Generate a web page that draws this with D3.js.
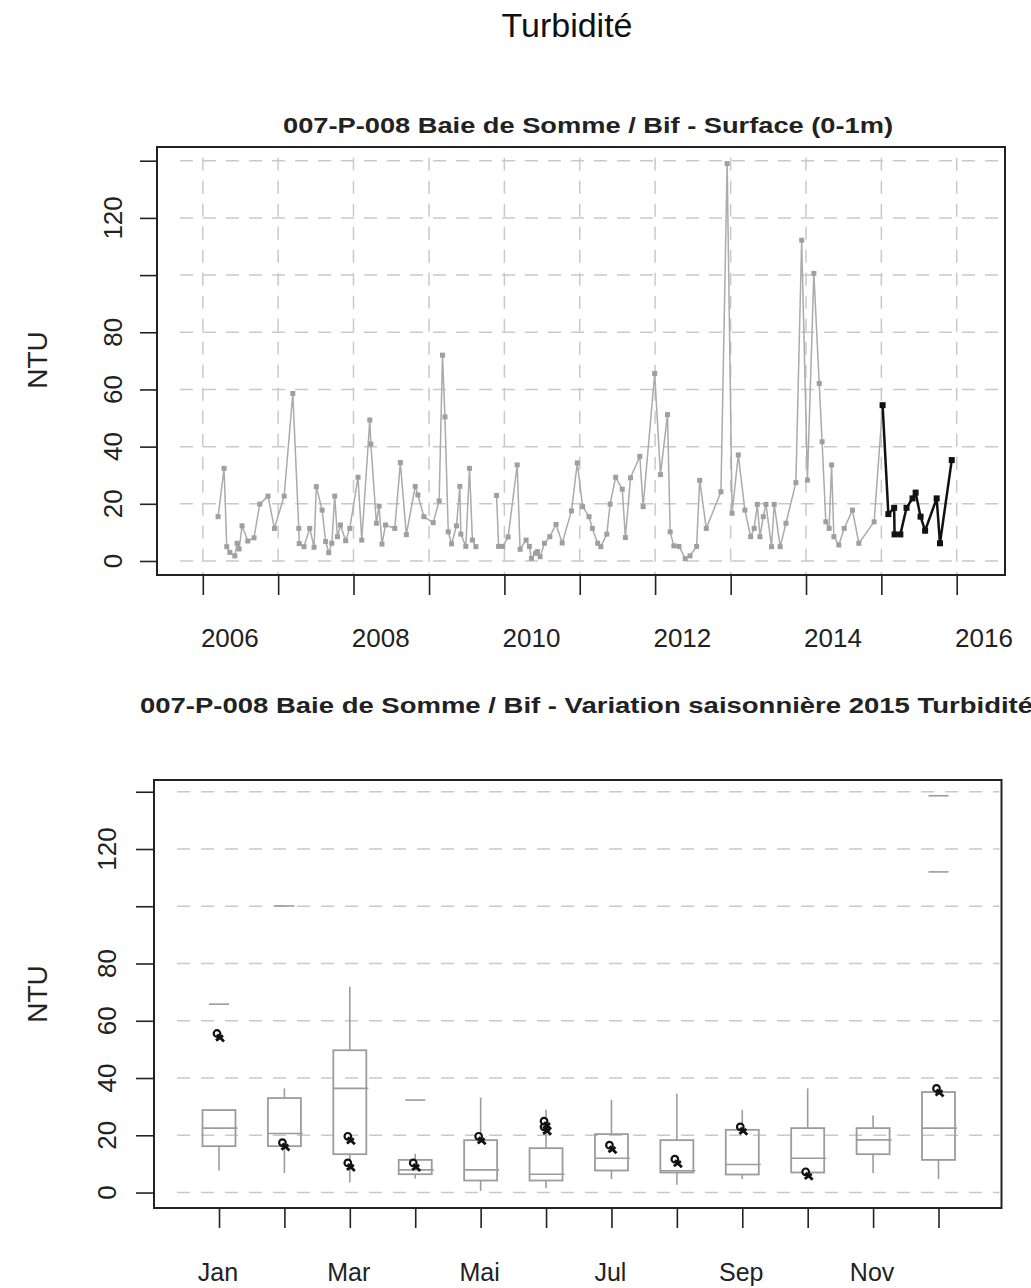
<!DOCTYPE html>
<html><head><meta charset="utf-8">
<script src="https://cdn.jsdelivr.net/npm/d3@7"></script>
<style>body{margin:0;background:#fff} text{font-family:"Liberation Sans",Arial,sans-serif}</style>
</head><body>
<svg id="c" width="1031" height="1288"></svg>
<script>
// ---------- DATA ----------
const histDates = ["2006-03-16","2006-04-14","2006-04-27","2006-05-12","2006-06-05","2006-06-16","2006-06-26","2006-07-10","2006-08-07","2006-09-06","2006-10-04","2006-11-13","2006-12-14",
"2007-01-30","2007-03-13","2007-04-11","2007-04-13","2007-05-06","2007-06-03","2007-06-24","2007-07-05","2007-08-02","2007-08-19","2007-09-03","2007-09-18","2007-10-02","2007-10-15","2007-10-30","2007-11-24","2007-12-14",
"2008-01-23","2008-02-10","2008-03-20","2008-03-25","2008-04-21","2008-05-04","2008-05-18","2008-06-04","2008-07-19","2008-08-15","2008-09-13","2008-10-26","2008-11-08","2008-12-07",
"2009-01-21","2009-02-19","2009-03-07","2009-03-19","2009-04-04","2009-04-20","2009-05-14","2009-05-30","2009-06-04","2009-06-28","2009-07-16","2009-07-30","2009-08-16","2009-10-01","2009-11-24","2009-12-04","2009-12-24",
"2010-01-19","2010-03-04","2010-03-18","2010-04-16","2010-05-02","2010-05-12","2010-06-01","2010-06-10","2010-06-23","2010-07-14","2010-08-09","2010-09-08","2010-10-08","2010-11-22","2010-12-20",
"2011-01-15","2011-02-15","2011-03-03","2011-03-29","2011-04-13","2011-05-12","2011-05-28","2011-06-24","2011-07-26","2011-08-10","2011-09-04","2011-10-19","2011-11-04","2011-12-30",
"2012-01-27","2012-03-01","2012-03-14","2012-04-01","2012-04-26","2012-05-26","2012-06-18","2012-07-20","2012-08-04","2012-09-05","2012-11-15","2012-12-15",
"2013-01-08","2013-02-07","2013-03-11","2013-04-08","2013-04-25","2013-05-10","2013-05-23","2013-06-08","2013-06-21","2013-07-18","2013-07-31","2013-08-29","2013-09-26","2013-11-13","2013-12-11",
"2014-01-08","2014-02-08","2014-03-06","2014-03-20","2014-04-07","2014-04-23","2014-05-05","2014-05-16","2014-06-09","2014-07-05","2014-08-14","2014-09-14","2014-11-27"];
const histValues = [15.5,32.4,5,3,1.8,6.2,4.2,12.3,7,8.1,19.9,22.7,11.4,
22.7,58.6,11.4,6.1,5,11.4,4.8,26,17.8,6.8,2.9,6.2,22.7,8.5,12.6,7.1,11.4,
29.3,7.3,49.3,40.9,13.2,19.2,5.9,12.6,11.4,34.4,9.2,26.1,23.1,15.5,
13.4,21,72,50.4,10.2,6,12.3,26.1,9.4,5.1,32.4,7.3,5,null,22.9,5.1,5.1,
8.4,33.6,4.1,7.3,5.1,0.9,2.7,3.3,1.5,6.2,8.5,12.8,6.3,17.5,34.3,
19,15.5,11.4,6.2,5,9.4,19.9,29.3,25.1,8.2,29.1,36.6,19,65.6,
30.2,51.2,10.2,5.3,5.1,0.8,1.8,5.1,28.2,11.4,24.2,139,
16.7,37.1,17.8,8.5,11.4,19.8,8.5,15.5,19.8,5,19.8,5,13.2,27.4,112.2,
28.3,100.6,62.1,41.7,13.7,11.4,33.6,8.5,5.6,11.4,17.8,6.2,13.7];
const dates2015 = ["2015-01-07","2015-02-04","2015-03-04","2015-03-06","2015-04-03","2015-05-03","2015-06-01","2015-06-16","2015-07-10","2015-08-01","2015-09-26","2015-10-12","2015-12-08"];
const values2015 = [54.5,16.4,18.6,9.3,9.3,18.6,21.9,23.9,15.5,10.6,21.9,6.2,35.3];

const yTicks = [0,20,40,60,80,100,120,140];
const yLabels = [0,20,40,60,80,120];
const yearTicks = [2006,2007,2008,2009,2010,2011,2012,2013,2014,2015,2016];
const yearLabels = [2006,2008,2010,2012,2014,2016];

const months = [1,2,3,4,5,6,7,8,9,10,11,12];
const monthLabels = {1:"Jan",3:"Mar",5:"Mai",7:"Jul",9:"Sep",11:"Nov"};
const boxQ1  = [16.2,16.2,13.4,6.4,4.2,4.2,7.7,7.0,6.3,7.0,13.4,11.4];
const boxMed = [22.5,20.6,36.4,7.9,7.9,6.4,12.0,7.6,9.8,12.0,18.4,22.5];
const boxQ3  = [28.8,33.0,49.7,11.4,18.3,15.5,20.4,18.3,21.9,22.5,22.5,35.1];
const boxLo  = [7.7,6.8,3.5,4.9,0.6,1.5,4.7,2.7,4.7,5.5,6.8,4.7];
const boxHi  = [28.8,36.4,71.9,13.5,33.2,28.9,32.4,34.5,28.9,36.4,26.9,35.1];
const outMonths = [1,2,4,12,12];
const outValues = [65.8,100.1,32.3,138.6,112];

// ---------- DRAW ----------
const svg = d3.select("#c");
const parse = d3.timeParse("%Y-%m-%d");
const gridCol = "#c9c9c9", grayCol = "#ababab", boxCol = "#9c9c9c";

svg.append("text").attr("x",567).attr("y",37).attr("text-anchor","middle")
  .attr("font-size",34).attr("fill","#111").text("Turbidité");

// ===== Top chart =====
const T = {l:157,r:1005,t:147,b:575};
const x = d3.scaleTime().domain([parse("2006-01-01"),parse("2016-01-01")]).range([202.8,956.7]);
const y = d3.scaleLinear().domain([-4.9,144.8]).range([T.b,T.t]);

svg.append("text").attr("x",588).attr("y",133).attr("text-anchor","middle")
  .attr("font-size",22).attr("font-weight","bold").attr("fill","#222")
  .attr("textLength",610).attr("lengthAdjust","spacingAndGlyphs")
  .text("007-P-008 Baie de Somme / Bif - Surface (0-1m)");

const gT = svg.append("g");
gT.selectAll("line.hg").data(yTicks).join("line")
  .attr("x1",180).attr("x2",T.r-2).attr("y1",d=>y(d)).attr("y2",d=>y(d))
  .attr("stroke",gridCol).attr("stroke-width",1.5).attr("stroke-dasharray","13,10");
gT.selectAll("line.vg").data(yearTicks).join("line")
  .attr("x1",d=>x(new Date(d,0,1))).attr("x2",d=>x(new Date(d,0,1)))
  .attr("y1",y(140)-3).attr("y2",T.b-1)
  .attr("stroke",gridCol).attr("stroke-width",1.5).attr("stroke-dasharray","13,10");

const hist = histDates.map((d,i)=>({d:parse(d),v:histValues[i]}));
const cur = dates2015.map((d,i)=>({d:parse(d),v:values2015[i]}));
const line = d3.line().defined(p=>p.v!==null).x(p=>x(p.d)).y(p=>y(p.v));
gT.append("path").datum(hist.concat([cur[0]])).attr("d",line)
  .attr("fill","none").attr("stroke",grayCol).attr("stroke-width",1.5);
gT.selectAll("rect.hp").data(hist.filter(p=>p.v!==null)).join("rect")
  .attr("x",p=>x(p.d)-2.5).attr("y",p=>y(p.v)-2.5).attr("width",5).attr("height",5)
  .attr("fill","#9f9f9f");
gT.append("path").datum(cur).attr("d",line)
  .attr("fill","none").attr("stroke","#111").attr("stroke-width",2.5);
gT.selectAll("rect.cp").data(cur).join("rect")
  .attr("x",p=>x(p.d)-3).attr("y",p=>y(p.v)-3).attr("width",6).attr("height",6)
  .attr("fill","#111");

svg.append("rect").attr("x",T.l).attr("y",T.t).attr("width",T.r-T.l).attr("height",T.b-T.t)
  .attr("fill","none").attr("stroke","#222").attr("stroke-width",2);

const axL = svg.append("g").attr("transform",`translate(${T.l},0)`)
  .call(d3.axisLeft(y).tickValues(yTicks).tickSize(17).tickFormat(""));
axL.select(".domain").remove();
axL.selectAll("line").attr("stroke","#222").attr("stroke-width",1.6);
svg.selectAll("text.ylT").data(yLabels).join("text")
  .attr("transform",d=>`translate(122,${y(d)}) rotate(-90)`).attr("text-anchor","middle")
  .attr("font-size",26).attr("fill","#222").text(d=>d);
const axB = svg.append("g").attr("transform",`translate(0,${T.b})`)
  .call(d3.axisBottom(x).tickValues(yearTicks.map(v=>new Date(v,0,1))).tickSize(20).tickFormat(""));
axB.select(".domain").remove();
axB.selectAll("line").attr("stroke","#222").attr("stroke-width",1.6);
svg.selectAll("text.xlT").data(yearLabels).join("text")
  .attr("x",d=>x(new Date(d,4,12))).attr("y",647).attr("text-anchor","middle")
  .attr("font-size",26).attr("fill","#222").text(d=>d);
svg.append("text").attr("transform",`translate(47,${(T.t+T.b)/2 - 1}) rotate(-90)`)
  .attr("text-anchor","middle").attr("font-size",28).attr("fill","#222").text("NTU");

// ===== Bottom chart =====
const B = {l:154,r:1001.5,t:780,b:1208};
const xm = d3.scaleLinear().domain([1,12]).range([219,938.5]);
const yb = d3.scaleLinear().domain([-5.4,144.1]).range([B.b,B.t]);
const bw = 33;

svg.append("text").attr("x",140).attr("y",713).attr("text-anchor","start")
  .attr("font-size",22).attr("font-weight","bold").attr("fill","#222")
  .attr("textLength",893).attr("lengthAdjust","spacingAndGlyphs")
  .text("007-P-008 Baie de Somme / Bif - Variation saisonnière 2015 Turbidité");

const gB = svg.append("g");
gB.selectAll("line.hg").data(yTicks).join("line")
  .attr("x1",177).attr("x2",B.r-2).attr("y1",d=>yb(d)).attr("y2",d=>yb(d))
  .attr("stroke",gridCol).attr("stroke-width",1.5).attr("stroke-dasharray","13,11");

const boxes = months.map((m,i)=>({m,q1:boxQ1[i],med:boxMed[i],q3:boxQ3[i],lo:boxLo[i],hi:boxHi[i]}));
gB.selectAll("line.wl").data(boxes).join("line")
  .attr("x1",b=>xm(b.m)).attr("x2",b=>xm(b.m)).attr("y1",b=>yb(b.lo)).attr("y2",b=>yb(b.q1))
  .attr("stroke",boxCol).attr("stroke-width",1.6);
gB.selectAll("line.wh").data(boxes).join("line")
  .attr("x1",b=>xm(b.m)).attr("x2",b=>xm(b.m)).attr("y1",b=>yb(b.hi)).attr("y2",b=>yb(b.q3))
  .attr("stroke",boxCol).attr("stroke-width",1.6);
gB.selectAll("rect.bx").data(boxes).join("rect")
  .attr("x",b=>xm(b.m)-bw/2).attr("y",b=>yb(b.q3)).attr("width",bw)
  .attr("height",b=>yb(b.q1)-yb(b.q3))
  .attr("fill","none").attr("stroke",boxCol).attr("stroke-width",1.8);
gB.selectAll("line.md").data(boxes).join("line")
  .attr("x1",b=>xm(b.m)-bw/2).attr("x2",b=>xm(b.m)+bw/2+2).attr("y1",b=>yb(b.med)).attr("y2",b=>yb(b.med))
  .attr("stroke",boxCol).attr("stroke-width",1.6);
gB.selectAll("line.out").data(outValues.map((v,i)=>({m:outMonths[i],v}))).join("line")
  .attr("x1",o=>xm(o.m)-10).attr("x2",o=>xm(o.m)+10).attr("y1",o=>yb(o.v)).attr("y2",o=>yb(o.v))
  .attr("stroke",boxCol).attr("stroke-width",1.6);

const pts = cur.map(p=>({m:p.d.getMonth()+1,v:p.v}));
const pg = gB.selectAll("g.pt").data(pts).join("g")
  .attr("transform",p=>`translate(${xm(p.m)},${yb(p.v)})`);
pg.append("circle").attr("cx",-2).attr("cy",-3).attr("r",3.3)
  .attr("fill","#fff").attr("stroke","#111").attr("stroke-width",2.2);
pg.append("path").attr("d","M-2,-2 L5,5 M-3,4 L4,-1")
  .attr("stroke","#111").attr("stroke-width",2.8).attr("fill","none");

svg.append("rect").attr("x",B.l).attr("y",B.t).attr("width",B.r-B.l).attr("height",B.b-B.t)
  .attr("fill","none").attr("stroke","#222").attr("stroke-width",2);

const axL2 = svg.append("g").attr("transform",`translate(${B.l},0)`)
  .call(d3.axisLeft(yb).tickValues(yTicks).tickSize(18).tickFormat(""));
axL2.select(".domain").remove();
axL2.selectAll("line").attr("stroke","#222").attr("stroke-width",1.6);
svg.selectAll("text.ylB").data(yLabels).join("text")
  .attr("transform",d=>`translate(116,${yb(d)}) rotate(-90)`).attr("text-anchor","middle")
  .attr("font-size",26).attr("fill","#222").text(d=>d);
const axB2 = svg.append("g").attr("transform",`translate(0,${B.b})`)
  .call(d3.axisBottom(xm).tickValues(months).tickSize(20).tickFormat(""));
axB2.select(".domain").remove();
axB2.selectAll("line").attr("stroke","#222").attr("stroke-width",1.6);
svg.selectAll("text.xlB").data(Object.keys(monthLabels).map(Number)).join("text")
  .attr("x",d=>xm(d)-1).attr("y",1281).attr("text-anchor","middle")
  .attr("font-size",25).attr("fill","#222").text(d=>monthLabels[d]);
svg.append("text").attr("transform",`translate(47,${(B.t+B.b)/2})  rotate(-90)`)
  .attr("text-anchor","middle").attr("font-size",28).attr("fill","#222").text("NTU");
</script>
</body></html>
